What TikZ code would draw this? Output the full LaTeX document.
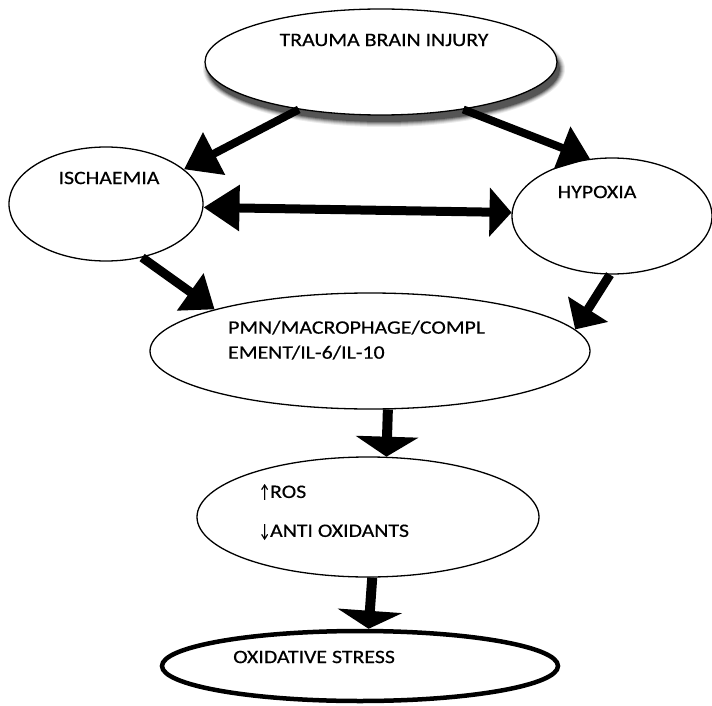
\documentclass[tikz,border=0pt]{standalone}
\usepackage{fontspec}
\setmainfont{Carlito}[FakeStretch=1.15,FakeBold=0.4]
\usetikzlibrary{arrows.meta,shapes.geometric}
\newcommand\myup{\scalebox{0.55}[1]{↑}}
\newcommand\mydown{\scalebox{0.55}[1]{↓}}
\tikzset{
  oval/.style={draw=black, ellipse, line width=1.3pt, fill=white, inner sep=0pt},
  lbl/.style={font=\fontsize{19}{22}\selectfont, inner sep=0pt},
}
\begin{document}
\begin{tikzpicture}[x=1pt,y=-1pt]
\useasboundingbox (0,0) rectangle (712,706);
\fill[white] (0,0) rectangle (712,706);
% shadow of top ellipse
\foreach \s/\o in {10/0.07,8/0.09,6/0.12,4/0.16,2/0.22,0/0.3}{
  \fill[black,opacity=\o] (384,69) ellipse [x radius=176+\s*0.5, y radius=53+\s*0.5];
}
\node[oval, minimum width=352, minimum height=106] (tbi) at (381,62) {};
\node[oval, minimum width=194, minimum height=114] (isch) at (106,204) {};
\node[oval, minimum width=200, minimum height=116] (hyp) at (612,216) {};
\node[oval, minimum width=440, minimum height=116] (pmn) at (370,351) {};
\node[oval, minimum width=342, minimum height=120] (ros) at (368,517) {};
\node[oval, line width=4.5pt, minimum width=396, minimum height=70] (ox) at (360,666) {};

\node[lbl] (ttbi) at (384,40) {TRAUMA BRAIN INJURY};
\node[lbl] (tisch) at (109,178) {ISCHAEMIA};
\node[lbl] (thyp) at (597,192) {HYPOXIA};
\node[lbl, anchor=west, align=left] (tpmn) at (228,340) {PMN/MACROPHAGE/COMPL\\[3pt]EMENT/IL-6/IL-10};
\node[lbl, anchor=west] (tros1) at (259,492) {\myup ROS};
\node[lbl, anchor=west] (tros2) at (259,532) {\mydown ANTI OXIDANTS};
\node[lbl, anchor=west] (tox) at (233,657) {OXIDATIVE STRESS};

\draw[line width=8pt, -{Triangle[length=34pt,width=46pt]}] (tbi.-150) -- (isch.24);
\draw[line width=8pt, -{Triangle[length=30pt,width=44pt]}] (tbi.-30) -- (hyp.111);
\draw[line width=9pt, {Triangle[length=36pt,width=44pt]}-{Triangle[length=22pt,width=48pt]}] (isch.-2) -- (hyp.178);
\draw[line width=9pt, -{Triangle[length=30pt,width=44pt]}] (isch.-56) -- (pmn.165);
\draw[line width=9pt, -{Triangle[length=24pt,width=46pt]}] (hyp.-92) -- (pmn.6);
\draw[line width=10pt, -{Triangle[length=20pt,width=62pt]}] (pmn.-73) -- (ros.73);
\draw[line width=10pt, -{Triangle[length=18pt,width=64pt]}] (ros.-86) -- (ox.77);
\end{tikzpicture}
\end{document}
